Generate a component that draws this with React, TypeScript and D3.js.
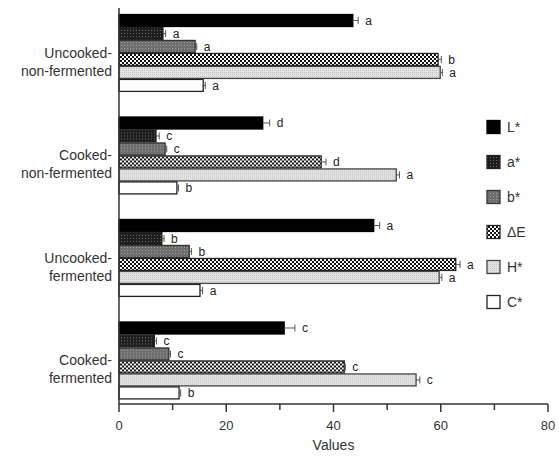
import React from "react";
import * as d3 from "d3";

const groups = ["Uncooked-non-fermented", "Cooked-non-fermented", "Uncooked-fermented", "Cooked-fermented"];
const groupLines = [["Uncooked-", "non-fermented"], ["Cooked-", "non-fermented"], ["Uncooked-", "fermented"], ["Cooked-", "fermented"]];
const series = ["L*", "a*", "b*", "ΔE", "H*", "C*"];

const Lvals = [43.6, 26.8, 47.5, 30.8];
const aVals = [8.2, 6.9, 8.0, 6.6];
const bVals = [14.2, 8.6, 13.1, 9.3];
const dEVals = [59.5, 37.7, 62.8, 42.0];
const HVals = [59.9, 51.7, 59.7, 55.4];
const CVals = [15.7, 10.8, 15.1, 11.2];

const Lerr = [1.0, 1.3, 1.1, 2.0];
const aErr = [0.5, 0.6, 0.4, 0.4];
const bErr = [0.3, 0.3, 0.4, 0.3];
const dEErr = [0.6, 0.9, 0.8, 0.2];
const HErr = [0.4, 0.6, 0.5, 0.7];
const CErr = [0.4, 0.3, 0.5, 0.3];

const Lletters = ["a", "d", "a", "c"];
const aLetters = ["a", "c", "b", "c"];
const bLetters = ["a", "c", "b", "c"];
const dELetters = ["b", "d", "a", "c"];
const HLetters = ["a", "a", "a", "c"];
const CLetters = ["a", "b", "a", "b"];

const xTicks = [0, 10, 20, 30, 40, 50, 60, 70, 80];
const xLabels = [0, 20, 40, 60, 80];

const valuesBySeries = [Lvals, aVals, bVals, dEVals, HVals, CVals];
const errBySeries = [Lerr, aErr, bErr, dEErr, HErr, CErr];
const lettersBySeries = [Lletters, aLetters, bLetters, dELetters, HLetters, CLetters];
const fills = ["#000", "url(#pA)", "url(#pB)", "url(#pDE)", "url(#pH)", "#fff"];
const strokes = ["#000", "#222", "#333", "#222", "#444", "#222"];

const W = 559, H = 456;
const FONT = "'Liberation Sans', Arial, sans-serif";

export default function App() {
  const x = d3.scaleLinear().domain([0, 80]).range([119, 548]);
  const y0 = d3.scaleBand<string>().domain(groups).range([1.7, 411.7]).paddingInner(0.24).paddingOuter(0.12);
  const y1 = d3.scaleBand<string>().domain(series).range([0, y0.bandwidth()]).padding(0);
  const axisY = 404;

  return (
    <svg width={W} height={H} style={{ position: "absolute", left: 0, top: 0, background: "#fff" }} fontFamily={FONT}>
      <defs>
        <pattern id="pA" width="3" height="3" patternUnits="userSpaceOnUse">
          <rect width="3" height="3" fill="#1e1e1e" />
          <rect x="1" y="1" width="1" height="1" fill="#6a6a6a" />
        </pattern>
        <pattern id="pB" width="3" height="3" patternUnits="userSpaceOnUse">
          <rect width="3" height="3" fill="#6e6e6e" />
          <rect x="1" y="1" width="1" height="1" fill="#a0a0a0" />
        </pattern>
        <pattern id="pDE" width="4" height="4" patternUnits="userSpaceOnUse">
          <rect width="4" height="4" fill="#111" />
          <rect x="0" y="0" width="2" height="2" fill="#fff" />
          <rect x="2" y="2" width="2" height="2" fill="#fff" />
        </pattern>
        <pattern id="pH" width="2" height="2" patternUnits="userSpaceOnUse">
          <rect width="2" height="2" fill="#e4e4e4" />
          <rect x="0" y="0" width="1" height="1" fill="#c4c4c4" />
        </pattern>
      </defs>

      {groups.map((g, gi) => (
        <g key={g} transform={`translate(0,${y0(g)})`}>
          {series.map((s, si) => {
            const v = valuesBySeries[si][gi];
            const e = errBySeries[si][gi];
            const yy = y1(s)!;
            const bh = y1.bandwidth();
            const xe = x(v + e);
            const cy = yy + bh / 2;
            return (
              <g key={s}>
                <rect x={x(0)} y={yy + 0.5} width={x(v) - x(0)} height={bh - 1} fill={fills[si]} stroke={strokes[si]} strokeWidth={1.3} />
                <line x1={x(v)} x2={xe} y1={cy} y2={cy} stroke="#555" strokeWidth={1} />
                <line x1={xe} x2={xe} y1={cy - 3.5} y2={cy + 3.5} stroke="#555" strokeWidth={1} />
                <text x={xe + 7} y={cy} dy="0.35em" fontSize={12} fill="#222">{lettersBySeries[si][gi]}</text>
              </g>
            );
          })}
        </g>
      ))}

      {groups.map((g, gi) => {
        const c = y0(g)! + y0.bandwidth() / 2;
        return (
          <text key={g} textAnchor="end" fontSize={14} fill="#333">
            <tspan x={112} y={c} dy="0.35em">{groupLines[gi][0]}</tspan>
            <tspan x={112} y={c + 18} dy="0.35em">{groupLines[gi][1]}</tspan>
          </text>
        );
      })}

      <line x1={x(0)} x2={x(0)} y1={8} y2={axisY} stroke="#333" strokeWidth={1.5} />
      <line x1={x(0)} x2={x(80)} y1={axisY} y2={axisY} stroke="#333" strokeWidth={1.5} />
      {xTicks.map((t) => (
        <line key={t} x1={x(t)} x2={x(t)} y1={axisY} y2={axisY + (t % 20 === 0 ? 8 : 6)} stroke="#333" strokeWidth={1.5} />
      ))}
      {xLabels.map((t) => (
        <text key={t} x={x(t)} y={425} dy="0.35em" textAnchor="middle" fontSize={13} fill="#333">{t}</text>
      ))}
      <text x={x(40)} y={445} dy="0.35em" textAnchor="middle" fontSize={14} fill="#333">Values</text>

      {series.map((s, si) => {
        const cy = 127 + 35 * si;
        return (
          <g key={s}>
            <rect x={487} y={cy - 6.5} width={13} height={13} fill={fills[si]} stroke={strokes[si]} strokeWidth={1.3} />
            <text x={507} y={cy} dy="0.35em" fontSize={14} fill="#333">{s}</text>
          </g>
        );
      })}
    </svg>
  );
}
